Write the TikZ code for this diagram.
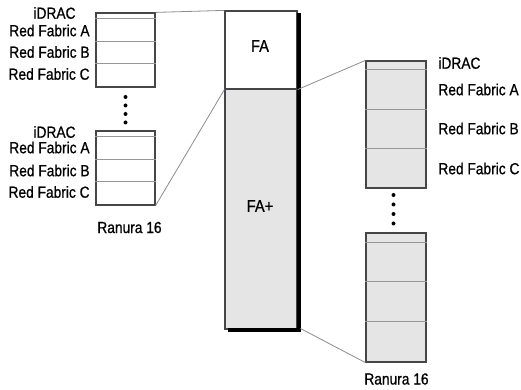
\documentclass[tikz,border=0pt]{standalone}
\usepackage{fontspec}
\setmainfont{Liberation Sans}[FakeStretch=0.86,FakeBold=0.8]
\definecolor{boxline}{RGB}{70,70,72}
\definecolor{rule}{RGB}{150,150,152}
\definecolor{panel}{RGB}{229,229,229}
\definecolor{wire}{RGB}{140,140,142}

\begin{document}
\begin{tikzpicture}[x=0.5pt,y=-0.5pt,
    box/.style={draw=boxline,semithick,inner sep=0pt,minimum width=#1},
    box/.default=29.5pt,
    shadowbar/.style={fill=black,inner sep=0pt,outer sep=0pt},
    lbl/.style={inner sep=0pt,font=\fontsize{8}{9}\selectfont,text=black},
    sepline/.style={rule,thin},
    linkline/.style={wire,thin}]
        \useasboundingbox (0,0) rectangle (521,390);
        % central chassis
        \node[box=36pt,minimum height=39pt,fill=white] (fa) at (261,50) {};
        \node[box=36pt,minimum height=120pt,fill=panel] (fap) at (261,209) {};
        \node[shadowbar,minimum width=2pt,minimum height=159.75pt] (shr) at (298.5,172.75) {};
        \node[shadowbar,minimum width=36.25pt,minimum height=2pt] (shb) at (264.25,330.5) {};
        \node[lbl,font=\fontsize{8.5}{9}\selectfont] (fatxt) at (260,46) {FA};
        \node[lbl,font=\fontsize{8.5}{9}\selectfont] (faptxt) at (260,206) {FA+};
        % slots, left side
        \node[box,minimum height=37pt,fill=white] (la) at (125.5,50) {};
        \node[box,minimum height=37pt,fill=white] (lb) at (125.5,168) {};
        \foreach \n in {la,lb}
          \foreach \d in {3.25,14.5,25.5}
            \draw[sepline] ([yshift=-\d pt]\n.north west) -- ([yshift=-\d pt]\n.north east);
        \node[lbl] (laid) at (54.5,13) {iDRAC};
        \node[lbl,anchor=east] (laa) at (90,30.5) {Red Fabric A};
        \node[lbl,anchor=east] (lab) at (90,52) {Red Fabric B};
        \node[lbl,anchor=east] (lac) at (90,74) {Red Fabric C};
        \node[lbl] (lbid) at (54.5,132) {iDRAC};
        \node[lbl,anchor=east] (lba) at (90,147.5) {Red Fabric A};
        \node[lbl,anchor=east] (lbb) at (90,170.5) {Red Fabric B};
        \node[lbl,anchor=east] (lbc) at (90,192) {Red Fabric C};
        \node[lbl] (lslot) at (129.5,227.5) {Ranura 16};
        \foreach \y in {97,105.5,114,122.5}
          \fill[black] (125.5,\y) circle (1pt);
        % slots, right side
        \node[box=30pt,minimum height=63.5pt,fill=panel] (ra) at (396,124.5) {};
        \node[box=30pt,minimum height=64.5pt,fill=panel] (rb) at (396,297.5) {};
        \foreach \d in {4.5,24.5,44}
          \draw[sepline] ([yshift=-\d pt]ra.north west) -- ([yshift=-\d pt]ra.north east);
        \foreach \d in {5,24.5,44.5}
          \draw[sepline] ([yshift=-\d pt]rb.north west) -- ([yshift=-\d pt]rb.north east);
        \node[lbl,anchor=west] (raid) at (438,63) {iDRAC};
        \node[lbl,anchor=west] (raa) at (438,89.5) {Red Fabric A};
        \node[lbl,anchor=west] (rab) at (438,128.5) {Red Fabric B};
        \node[lbl,anchor=west] (rac) at (438,168.5) {Red Fabric C};
        \node[lbl] (rslot) at (396.5,379) {Ranura 16};
        \foreach \y in {195,204.5,214,223.5}
          \fill[black] (393.5,\y) circle (1pt);
        % links
        \draw[linkline] (la.north east) -- (fa.north west);
        \draw[linkline] (lb.south east) -- (fa.south west);
        \draw[linkline] (fa.south east) -- (ra.north west);
        \draw[linkline] (shb.north east) -- (rb.south west);
      \end{tikzpicture}
\end{document}
